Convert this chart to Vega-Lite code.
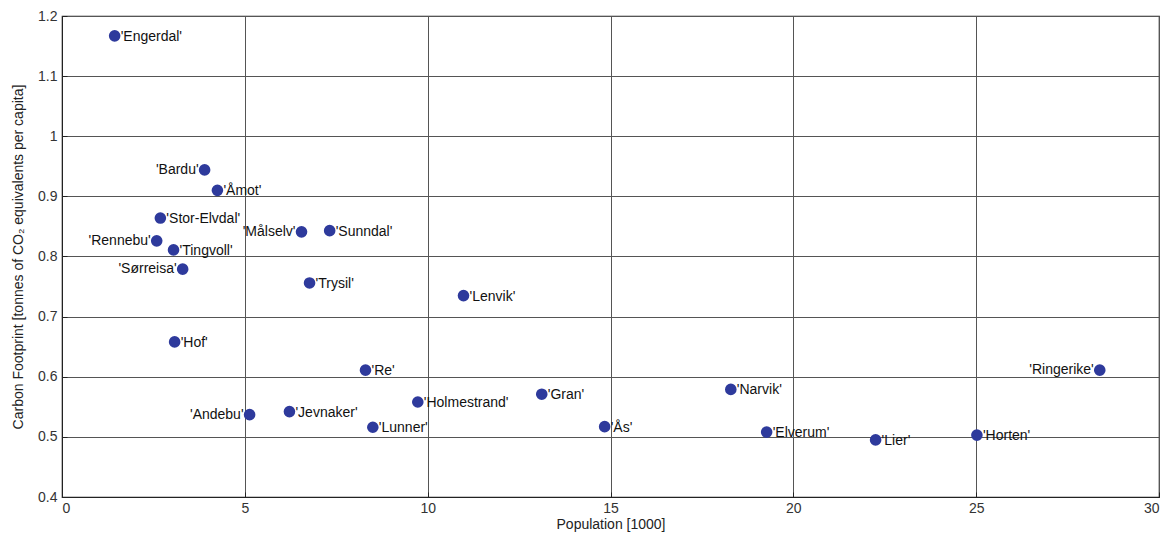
{
  "$schema": "https://vega.github.io/schema/vega-lite/v6.json",
  "autosize": "none",
  "width": 1097,
  "height": 481,
  "padding": {"left": 62, "top": 16, "right": 15, "bottom": 40},
  "background": "white",
  "config": {
    "font": "Liberation Sans",
    "view": {"stroke": "#222", "strokeWidth": 1.2},
    "axis": {
      "gridColor": "#555",
      "gridOpacity": 1,
      "gridWidth": 1,
      "domainColor": "#222",
      "tickColor": "#222",
      "labelFontSize": 14,
      "labelColor": "#333",
      "titleFontSize": 14,
      "titleFontWeight": "normal",
      "titleColor": "#222"
    }
  },
  "data": {
    "values": [
      {"name": "'Engerdal'", "pop": 1.44, "cf": 1.167},
      {"name": "'Bardu'", "pop": 3.9, "cf": 0.944},
      {"name": "'Åmot'", "pop": 4.25, "cf": 0.91},
      {"name": "'Stor-Elvdal'", "pop": 2.69, "cf": 0.864},
      {"name": "'Rennebu'", "pop": 2.59, "cf": 0.826},
      {"name": "'Tingvoll'", "pop": 3.05, "cf": 0.811},
      {"name": "'Sørreisa'", "pop": 3.3, "cf": 0.779},
      {"name": "'Målselv'", "pop": 6.55, "cf": 0.841},
      {"name": "'Sunndal'", "pop": 7.32, "cf": 0.843},
      {"name": "'Trysil'", "pop": 6.77, "cf": 0.756},
      {"name": "'Lenvik'", "pop": 10.98, "cf": 0.735},
      {"name": "'Hof'", "pop": 3.08, "cf": 0.658},
      {"name": "'Re'", "pop": 8.3, "cf": 0.611},
      {"name": "'Andebu'", "pop": 5.13, "cf": 0.537},
      {"name": "'Jevnaker'", "pop": 6.22, "cf": 0.542},
      {"name": "'Lunner'", "pop": 8.5, "cf": 0.516},
      {"name": "'Holmestrand'", "pop": 9.73, "cf": 0.558},
      {"name": "'Gran'", "pop": 13.12, "cf": 0.571},
      {"name": "'Ås'", "pop": 14.84, "cf": 0.517},
      {"name": "'Narvik'", "pop": 18.29, "cf": 0.579},
      {"name": "'Elverum'", "pop": 19.27, "cf": 0.508},
      {"name": "'Lier'", "pop": 22.25, "cf": 0.495},
      {"name": "'Horten'", "pop": 25.02, "cf": 0.503},
      {"name": "'Ringerike'", "pop": 28.38, "cf": 0.611}
    ]
  },
  "encoding": {
    "x": {
      "field": "pop", "type": "quantitative",
      "scale": {"domain": [0, 30], "nice": false, "zero": false},
      "axis": {"values": [0, 5, 10, 15, 20, 25, 30], "title": "Population [1000]", "tickSize": -5, "labelPadding": 9, "titlePadding": 2}
    },
    "y": {
      "field": "cf", "type": "quantitative",
      "scale": {"domain": [0.4, 1.2], "nice": false, "zero": false},
      "axis": {"values": [0.4, 0.5, 0.6, 0.7, 0.8, 0.9, 1, 1.1, 1.2], "format": ".1~f", "title": "Carbon Footprint [tonnes of CO₂ equivalents per capita]", "tickSize": -5, "labelPadding": 10, "titlePadding": 12}
    }
  },
  "layer": [
    {
      "mark": {"type": "circle", "size": 135, "color": "#2E3A9C", "opacity": 1}
    },
    {
      "transform": [{"filter": {"not": {"field": "name", "oneOf": ["'Bardu'", "'Rennebu'", "'Sørreisa'", "'Målselv'", "'Andebu'", "'Ringerike'"]}}}],
      "mark": {"type": "text", "align": "left", "baseline": "middle", "dx": 6, "dy": 1, "fontSize": 14, "color": "#111"},
      "encoding": {"text": {"field": "name"}}
    },
    {
      "transform": [{"filter": {"field": "name", "oneOf": ["'Bardu'", "'Rennebu'", "'Sørreisa'", "'Målselv'", "'Andebu'", "'Ringerike'"]}}],
      "mark": {"type": "text", "align": "right", "baseline": "middle", "dx": -6, "dy": 0, "fontSize": 14, "color": "#111"},
      "encoding": {"text": {"field": "name"}}
    }
  ]
}
